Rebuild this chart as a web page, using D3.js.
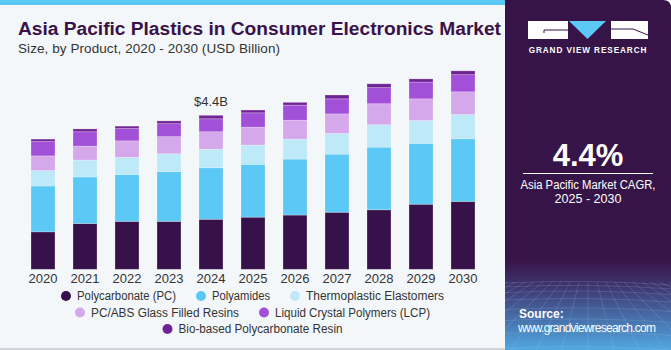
<!DOCTYPE html>
<html><head><meta charset="utf-8">
<script src="https://cdn.jsdelivr.net/npm/d3@7/dist/d3.min.js"></script>
<style>
html,body{margin:0;padding:0;background:#fff;}
svg{display:block;font-family:"Liberation Sans",Arial,sans-serif;}
</style></head>
<body>
<svg id="c" width="671" height="350"></svg>
<script>
const years = ["2020","2021","2022","2023","2024","2025","2026","2027","2028","2029","2030"];
const seriesNames = ["Polycarbonate (PC)","Polyamides","Thermoplastic Elastomers","PC/ABS Glass Filled Resins","Liquid Crystal Polymers (LCP)","Bio-based Polycarbonate Resin"];
const polycarbonate = [1.07,1.31,1.37,1.37,1.43,1.49,1.55,1.63,1.70,1.86,1.94];
const polyamides    = [1.31,1.33,1.34,1.42,1.47,1.51,1.60,1.66,1.79,1.74,1.79];
const tpe           = [0.44,0.48,0.49,0.51,0.53,0.55,0.57,0.59,0.64,0.65,0.69];
const pcabs         = [0.42,0.40,0.47,0.49,0.50,0.51,0.54,0.56,0.60,0.62,0.65];
const lcp           = [0.41,0.41,0.35,0.37,0.37,0.41,0.43,0.43,0.46,0.48,0.49];
const bio           = [0.07,0.08,0.07,0.08,0.10,0.08,0.08,0.11,0.11,0.09,0.11];
const colors = ["#37114a","#5bc8f5","#bde9f9","#d5a8ec","#a350d8","#6f2496"];
const annotation = {year:"2024", label:"$4.4B"};

const svg = d3.select("#c");
const W = 671, H = 350;

// backgrounds
svg.append("rect").attr("x",0).attr("y",0).attr("width",W).attr("height",H).attr("fill","#ffffff");
svg.append("rect").attr("x",0).attr("y",0).attr("width",508).attr("height",348).attr("fill","#f3f7fa");
svg.append("rect").attr("x",0).attr("y",0).attr("width",508).attr("height",5).attr("fill","#5bc8f5");
svg.append("rect").attr("x",0).attr("y",348).attr("width",508).attr("height",2).attr("fill","#d0d4d8");

// right panel
const defs = svg.append("defs");
const g1 = defs.append("linearGradient").attr("id","pg").attr("x1",0).attr("y1",0).attr("x2",0).attr("y2",1);
g1.append("stop").attr("offset","0").attr("stop-color","#371447");
g1.append("stop").attr("offset","0.74").attr("stop-color","#371447");
g1.append("stop").attr("offset","0.82").attr("stop-color","#3f3670");
g1.append("stop").attr("offset","0.92").attr("stop-color","#4876b0");
g1.append("stop").attr("offset","1").attr("stop-color","#52a8e0");
const clip = defs.append("clipPath").attr("id","pclip");
clip.append("path").attr("d","M505,0 H663 Q671,0 671,8 V350 H505 Z");
const panel = svg.append("g").attr("clip-path","url(#pclip)");
panel.append("rect").attr("x",505).attr("y",0).attr("width",166).attr("height",350).attr("fill","url(#pg)");
// faint perspective grid
const grid = panel.append("g").attr("stroke","#9fc6ee").attr("stroke-opacity",0.28).attr("stroke-width",0.7).attr("fill","none");
for (let i=0;i<9;i++){ const yy = 283 + i*i*0.9 + i*3; grid.append("path").attr("d",`M505,${yy} Q588,${yy-4} 671,${yy+2}`); }
for (let i=-12;i<=12;i++){ grid.append("line").attr("x1",588+i*9).attr("y1",282).attr("x2",588+i*26).attr("y2",350); }

// logo
const logo = svg.append("g");
logo.append("rect").attr("x",528).attr("y",21).attr("width",40).attr("height",18).attr("fill","#ffffff");
logo.append("path").attr("d","M544,33 V30 H568").attr("stroke","#371447").attr("stroke-width",1).attr("fill","none");
logo.append("path").attr("d","M569,21 H606 L587.5,39 Z").attr("fill","#5bc8f5");
logo.append("rect").attr("x",611).attr("y",21).attr("width",37).attr("height",18).attr("fill","#ffffff");
logo.append("path").attr("d","M633,29 L648,35 M633,29 H611").attr("stroke","#371447").attr("stroke-width",1).attr("fill","none");
svg.append("text").attr("x",588).attr("y",52.5).attr("text-anchor","middle").attr("fill","#ffffff")
  .attr("font-size",8.2).attr("font-weight","bold").attr("letter-spacing",0.9).text("GRAND VIEW RESEARCH");

svg.append("text").attr("x",588).attr("y",166).attr("text-anchor","middle").attr("fill","#ffffff")
  .attr("font-size",31).attr("font-weight","bold").text("4.4%");
svg.append("line").attr("x1",523).attr("x2",653).attr("y1",173.5).attr("y2",173.5).attr("stroke","#ffffff").attr("stroke-width",1);
svg.append("text").attr("x",588).attr("y",189).attr("text-anchor","middle").attr("fill","#ffffff").attr("font-size",12)
  .attr("textLength",135).attr("lengthAdjust","spacingAndGlyphs").text("Asia Pacific Market CAGR,");
svg.append("text").attr("x",588).attr("y",203).attr("text-anchor","middle").attr("fill","#ffffff").attr("font-size",12)
  .attr("textLength",67).attr("lengthAdjust","spacingAndGlyphs").text("2025 - 2030");
svg.append("text").attr("x",519).attr("y",318).attr("fill","#ffffff").attr("font-size",12).attr("font-weight","bold").text("Source:");
svg.append("text").attr("x",518).attr("y",332).attr("fill","#ffffff").attr("font-size",12).attr("textLength",138).text("www.grandviewresearch.com");

// titles
svg.append("text").attr("x",18).attr("y",35).attr("fill","#3a1148").attr("font-size",18).attr("font-weight","900")
  .attr("textLength",483).attr("lengthAdjust","spacingAndGlyphs").text("Asia Pacific Plastics in Consumer Electronics Market");
svg.append("text").attr("x",18).attr("y",53).attr("fill","#333333").attr("font-size",13.5)
  .attr("textLength",262).text("Size, by Product, 2020 - 2030 (USD Billion)");

// chart
const rows = years.map((y,i)=>({year:y, v:[polycarbonate[i],polyamides[i],tpe[i],pcabs[i],lcp[i],bio[i]]}));
const keys = d3.range(seriesNames.length);
const stack = d3.stack().keys(keys).value((d,k)=>d.v[k]);
const stacked = stack(rows);

const x = d3.scaleBand().domain(years).range([22,484]).paddingInner(18/42).paddingOuter(9/42);
const y = d3.scaleLinear().domain([0,4.4]).range([269.3,115.3]);

const gBars = svg.append("g");
stacked.forEach((s,k)=>{
  gBars.append("g").attr("fill",colors[k]).selectAll("rect").data(s).join("rect")
    .attr("x",d=>x(d.data.year)).attr("width",x.bandwidth())
    .attr("y",d=>y(d[1])).attr("height",d=>Math.max(0,y(d[0])-y(d[1])))
    .attr("stroke","#ffffff").attr("stroke-opacity",0.35).attr("stroke-width",0.7);
});

const xAxis = d3.axisBottom(x).tickSize(0).tickPadding(0);
const ax = svg.append("g").attr("transform","translate(0,274)").call(xAxis);
ax.select(".domain").remove();
ax.selectAll("text").attr("font-size",13).attr("fill","#333333").attr("font-family","Liberation Sans, Arial, sans-serif").attr("dy","0.71em");

// annotation
const ann = rows.find(r=>r.year===annotation.year);
svg.append("text").attr("x",x(annotation.year)+x.bandwidth()/2).attr("y",y(d3.sum(ann.v))-9)
  .attr("text-anchor","middle").attr("font-size",13).attr("fill","#333333").text(annotation.label);

// legend
const legendPos = [
  {cx:66,ty:296,w:99},{cx:201,ty:296,w:58},{cx:295,ty:296,w:138},
  {cx:80,ty:312.5,w:148},{cx:264,ty:312.5,w:155},
  {cx:167.5,ty:329,w:164}
];
const lg = svg.append("g");
seriesNames.forEach((n,i)=>{
  const p = legendPos[i];
  lg.append("circle").attr("cx",p.cx).attr("cy",p.ty).attr("r",5).attr("fill",colors[i]);
  lg.append("text").attr("x",p.cx+11).attr("y",p.ty).attr("dy","0.35em").attr("font-size",12.5).attr("fill","#333333")
    .attr("textLength",p.w).attr("lengthAdjust","spacingAndGlyphs").text(n);
});
</script>
</body></html>
